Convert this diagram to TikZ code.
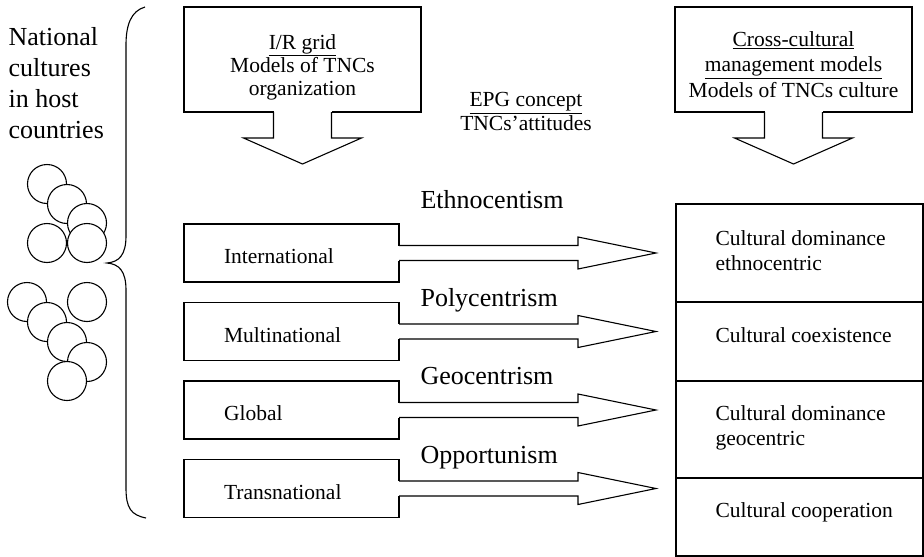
\documentclass[tikz,border=0pt]{standalone}
\usepackage{fontspec}
\setmainfont{Liberation Serif}
\usetikzlibrary{positioning}

\begin{document}
\begin{tikzpicture}[
  x=1pt, y=1pt, line width=1.1pt,
  every node/.style={font=\fontsize{21.5}{24}\selectfont},
  hdbox/.style={draw, minimum width=237pt, minimum height=105pt, inner sep=0pt, outer sep=0pt},
  hdtext/.style={anchor=north, align=center, inner sep=0pt},
  typebox/.style={draw, fill=white, text width=135pt, inner xsep=40pt, inner ysep=0pt,
                  text height=21pt, text depth=0pt,
                  minimum height=58pt, align=left, outer sep=0pt},
  cbox/.style={draw, minimum width=247pt, inner sep=0pt, outer sep=0pt},
  ctext/.style={anchor=west, align=left, inner sep=0pt, font=\fontsize{21.5}{25}\selectfont},
  att/.style={anchor=base west, inner sep=0pt, font=\fontsize{26}{31}\selectfont},
  bubble/.style={draw, fill=white}
]
\useasboundingbox (0,0) rectangle (924,-557);

% host countries
\node[anchor=west, align=left, inner sep=0pt, font=\fontsize{26}{31}\selectfont] (nat) at (8,-83)
  {National\\cultures\\in host\\countries};
\foreach \cx/\cy in {47/184, 67/204, 87/223, 47/243, 87/243,
                     27/302, 47/322, 67/342, 87/362, 67/381, 87/302}
  \draw[bubble] (\cx,-\cy) circle[radius=19.5];
\draw (145,-7) .. controls (131,-11) and (126,-25) .. (126,-45) -- (126,-236)
  .. controls (126,-255) and (119,-262) .. (107,-263)
  .. controls (119,-264) and (126,-271) .. (126,-290) -- (126,-488)
  .. controls (126,-508) and (131,-515) .. (146,-518);

% headings
\node[hdbox] (irg) at (302.5,-59.5) {};
\node[hdbox, right=254pt of irg] (ccm) {};
\node[hdtext, below=27pt of irg.north, font=\fontsize{21.5}{23}\selectfont] (irgtext)
  {\underline{I/R grid}\\Models of TNCs\\organization};
\node[hdtext, below=24pt of ccm.north, font=\fontsize{21.5}{25.5}\selectfont] (ccmtext)
  {\underline{Cross-cultural}\\\underline{management models}\\Models of TNCs culture};
\node[hdtext] (epg) at (526,-92) {\underline{EPG concept}\\TNCs’attitudes};
\foreach \b in {irg, ccm} {
  \fill[white] ([xshift=-29pt, yshift=-2pt]\b.south) rectangle ([xshift=29pt, yshift=2pt]\b.south);
  \draw ([xshift=-29pt]\b.south) -- ++(0,-26) -- ++(-30,0) -- ++(59,-26)
    -- ++(59,26) -- ++(-30,0) -- ++(0,26);
}

% organization types
\node[typebox] (intl) at (291.5,-253) {International};
\node[typebox, below=20.5pt of intl] (mult) {Multinational};
\node[typebox, below=20.5pt of mult] (glob) {Global};
\node[typebox, below=20.5pt of glob] (trans) {Transnational};

% culture models
\node[cbox, minimum height=98pt] (cdom) at (799.5,-253) {};
\node[cbox, minimum height=79pt, below=0pt of cdom] (ccoex) {};
\node[cbox, minimum height=97pt, below=0pt of ccoex] (cgeo) {};
\node[cbox, minimum height=78pt, below=0pt of cgeo] (ccoop) {};
\node[ctext, right=39pt of cdom.west, yshift=2.5pt] (tdom) {Cultural dominance\\ethnocentric};
\node[ctext, right=39pt of ccoex.west, yshift=6.5pt] (tcoex) {Cultural coexistence};
\node[ctext, right=39pt of cgeo.west, yshift=2pt] (tgeo) {Cultural dominance\\geocentric};
\node[ctext, right=39pt of ccoop.west, yshift=5pt] (tcoop) {Cultural cooperation};

% attitudes
\foreach \t/\n in {intl/1, mult/2, glob/3, trans/4} {
  \fill[white] ([xshift=-2pt, yshift=7.5pt]\t.east) rectangle ([xshift=2pt, yshift=-7.5pt]\t.east);
  \draw ([yshift=7.5pt]\t.east) -- ++(179,0) -- ++(0,8.5) -- ++(78,-16) coordinate (tip\n)
    -- ++(-78,-16) -- ++(0,8.5) -- ++(-179,0);
}
\node[att] (ethno) at (420,-208) {Ethnocentism};
\node[att] (poly) at (420,-306) {Polycentrism};
\node[att] (geo) at (420,-384) {Geocentrism};
\node[att] (opp) at (420,-463) {Opportunism};
\end{tikzpicture}
\end{document}
